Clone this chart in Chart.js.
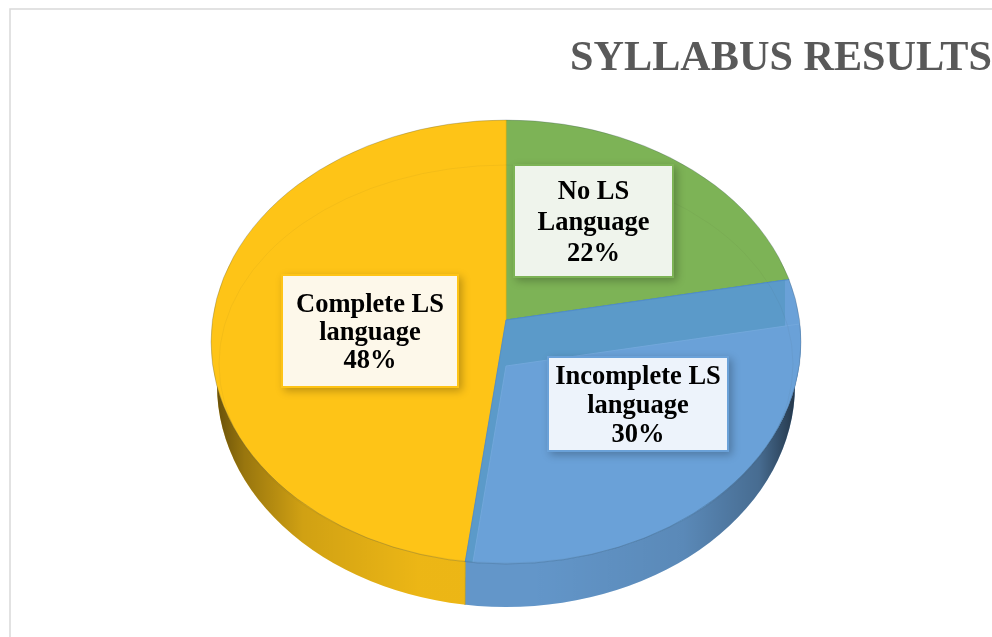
<!DOCTYPE html>
<html>
<head>
<meta charset="utf-8">
<style>
    html, body { margin: 0; padding: 0; background: #fff; overflow: hidden; }
    canvas { display: block; }
</style>
<script src="https://cdn.jsdelivr.net/npm/chart.js@4"></script>
</head>
<body>
<canvas id="syllabusChart" width="992" height="637"></canvas>
<script>
const titleText = 'SYLLABUS RESULTS';
const categories = [['No LS', 'Language'], ['Incomplete LS', 'language'], ['Complete LS', 'language']];
const shares = [22, 30, 48];

// look of the tilted pie, measured on the reference
const sliceColors = ['#7DB356', '#6AA1D8', '#FEC417'];
const sliceEdges = ['#6C9F49', '#4F8CCB', '#F2B90F'];
const boxFills = ['#EFF4EC', '#EDF3FB', '#FDF8EA'];
const labelBoxes = [
    {x: 514, y: 165, w: 159, h: 112, lineGap: 31},
    {x: 548, y: 357, w: 180, h: 94, lineGap: 29},
    {x: 282, y: 275, w: 176, h: 112, lineGap: 28}
];
const tilt = 0.75;
const apex = {x: 506, y: 320};
const topFace = {x: 506, y: 342, rx: 295, ry: 222};
const bottomFace = {x: 506, y: 385, rx: 289, ry: 222};
const innerRing = {x: 506, y: 364, rx: 287, ry: 199};
const wallSeamX = 466;
const wallDrop = 43;
const wallShear = 40 / 244;
const stripDrop = 46;
const reach = 345;

function ellipsePath(ctx, e) {
    ctx.beginPath();
    ctx.ellipse(e.x, e.y, e.rx, e.ry, 0, 0, Math.PI * 2);
}

function tiltTo(ctx, arc, apexY) {
    const s = reach / arc.outerRadius;
    ctx.translate(apex.x, apexY);
    ctx.scale(s, s * tilt);
    ctx.translate(-arc.x, -arc.y);
}

function drawRecoloured(ctx, arc, fill, edge) {
    const original = arc.options;
    arc.options = Object.assign({}, original, {backgroundColor: fill, borderColor: edge});
    arc.draw(ctx);
    arc.options = original;
}

const tiltedPie = {
    id: 'tiltedPie',
    beforeDraw(chart) {
        const ctx = chart.ctx;
        ctx.save();
        ctx.strokeStyle = '#D9D9D9';
        ctx.lineWidth = 1.5;
        ctx.strokeRect(10, 9, 1100, 800);
        ctx.restore();
    },
    beforeDatasetsDraw(chart) {
        const ctx = chart.ctx;
        const arcs = chart.getDatasetMeta(0).data;

        // side wall: same slices dropped down, sheared so the seam stands upright
        ctx.save();
        ellipsePath(ctx, bottomFace);
        ctx.clip();
        ctx.save();
        const s = reach / arcs[0].outerRadius;
        ctx.translate(wallSeamX, apex.y + wallDrop);
        ctx.transform(1, 0, wallShear, 1, 0, 0);
        ctx.scale(s, s * tilt);
        ctx.translate(-arcs[0].x, -arcs[0].y);
        arcs.forEach(a => a.draw(ctx));
        ctx.restore();
        const shade = ctx.createLinearGradient(215, 0, 800, 0);
        shade.addColorStop(0, 'rgba(0,0,0,0.6)');
        shade.addColorStop(0.05, 'rgba(0,0,0,0.4)');
        shade.addColorStop(0.15, 'rgba(0,0,0,0.18)');
        shade.addColorStop(0.35, 'rgba(0,0,0,0.07)');
        shade.addColorStop(0.55, 'rgba(0,0,0,0.07)');
        shade.addColorStop(0.8, 'rgba(0,0,0,0.15)');
        shade.addColorStop(0.93, 'rgba(0,0,0,0.33)');
        shade.addColorStop(1, 'rgba(0,0,0,0.7)');
        ctx.fillStyle = shade;
        ctx.fillRect(200, 300, 620, 320);
        ctx.restore();

        // top face is drawn by the library inside this transform
        ctx.save();
        ellipsePath(ctx, topFace);
        ctx.clip();
        tiltTo(ctx, arcs[0], apex.y);
    },
    afterDatasetsDraw(chart) {
        const ctx = chart.ctx;
        const arcs = chart.getDatasetMeta(0).data;
        ctx.restore();

        // darker bevel strip of the blue slice
        ctx.save();
        ellipsePath(ctx, topFace);
        ctx.clip();
        ctx.save();
        ctx.beginPath();
        ctx.rect(200, 100, 585, 500);
        ctx.clip();
        ctx.save();
        tiltTo(ctx, arcs[1], apex.y);
        drawRecoloured(ctx, arcs[1], '#5B9AC9', '#4F8CCB');
        ctx.restore();
        ctx.restore();
        ctx.save();
        tiltTo(ctx, arcs[1], apex.y + stripDrop);
        drawRecoloured(ctx, arcs[1], sliceColors[1], '#74A9DC');
        ctx.restore();
        ctx.restore();

        // thin rings of the bevel and the rim
        ctx.save();
        ellipsePath(ctx, innerRing);
        ctx.strokeStyle = 'rgba(60,60,40,0.05)';
        ctx.lineWidth = 1;
        ctx.stroke();
        ellipsePath(ctx, topFace);
        ctx.strokeStyle = 'rgba(50,70,90,0.25)';
        ctx.stroke();
        ctx.restore();

        // value boxes
        categories.forEach((lines, i) => {
            const box = labelBoxes[i];
            ctx.save();
            ctx.shadowColor = 'rgba(0,0,0,0.25)';
            ctx.shadowBlur = 8;
            ctx.shadowOffsetX = 3;
            ctx.shadowOffsetY = 3;
            ctx.fillStyle = sliceColors[i];
            ctx.fillRect(box.x - 1, box.y - 1, box.w + 2, box.h + 2);
            ctx.restore();
            ctx.fillStyle = boxFills[i];
            ctx.fillRect(box.x + 1, box.y + 1, box.w - 2, box.h - 2);

            const text = lines.concat(shares[i] + '%');
            const midY = box.y + box.h / 2 + 2;
            ctx.fillStyle = '#000';
            ctx.font = "bold 26.5px 'Liberation Serif'";
            ctx.textAlign = 'center';
            ctx.textBaseline = 'middle';
            text.forEach((t, n) => {
                ctx.fillText(t, box.x + box.w / 2, midY + (n - 1) * box.lineGap);
            });
        });
    }
};

new Chart(document.getElementById('syllabusChart'), {
    type: 'pie',
    data: {
        labels: categories.map(c => c.join(' ')),
        datasets: [{
            data: shares,
            backgroundColor: sliceColors,
            borderColor: sliceEdges,
            borderWidth: 0.6,
            clip: false
        }]
    },
    options: {
        responsive: false,
        animation: false,
        layout: {padding: {left: 570}},
        plugins: {
            legend: {display: false},
            tooltip: {enabled: false},
            title: {
                display: true,
                text: titleText,
                align: 'start',
                color: '#595959',
                font: {family: "'Liberation Serif'", size: 43, weight: 'bold'},
                padding: {top: 33, bottom: 0}
            }
        }
    },
    plugins: [tiltedPie]
});
</script>
</body>
</html>
